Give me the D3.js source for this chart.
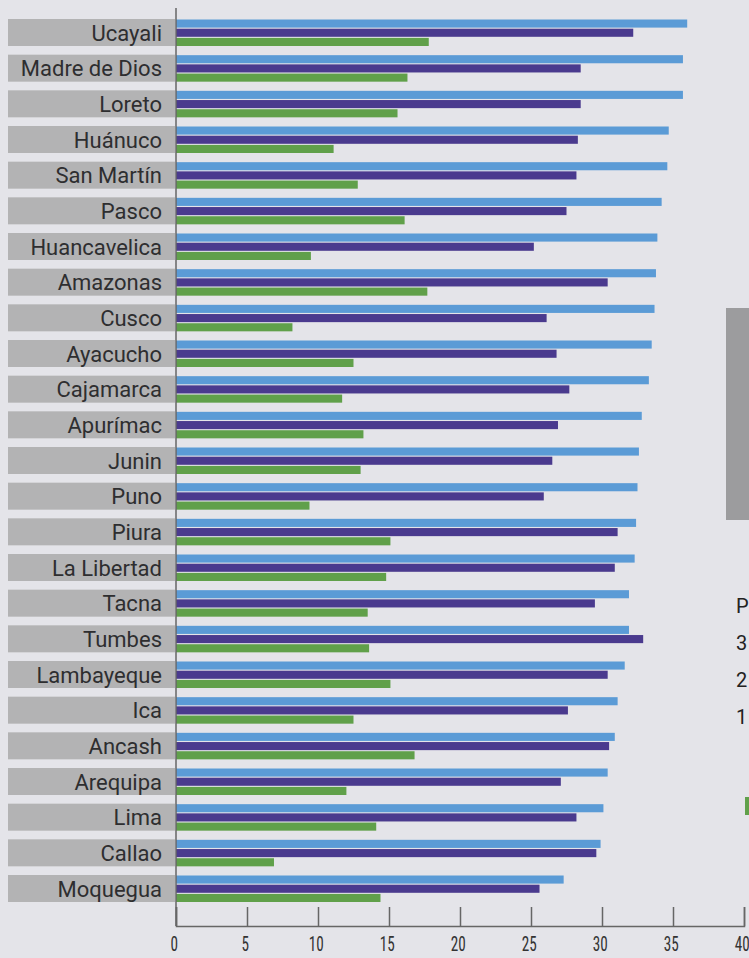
<!DOCTYPE html>
<html>
<head>
<meta charset="utf-8">
<script src="https://cdn.jsdelivr.net/npm/d3@7"></script>
<style>
  html, body { margin: 0; padding: 0; background: #e4e4e9; }
  svg { display: block; }
</style>
</head>
<body>
<script>
// ---- Data ----
const regions = ["Ucayali","Madre de Dios","Loreto","Huánuco","San Martín","Pasco","Huancavelica","Amazonas","Cusco","Ayacucho","Cajamarca","Apurímac","Junin","Puno","Piura","La Libertad","Tacna","Tumbes","Lambayeque","Ica","Ancash","Arequipa","Lima","Callao","Moquegua"];
const seriesA = [36.0,35.7,35.7,34.7,34.6,34.2,33.9,33.8,33.7,33.5,33.3,32.8,32.6,32.5,32.4,32.3,31.9,31.9,31.6,31.1,30.9,30.4,30.1,29.9,27.3]; // light blue
const seriesB = [32.2,28.5,28.5,28.3,28.2,27.5,25.2,30.4,26.1,26.8,27.7,26.9,26.5,25.9,31.1,30.9,29.5,32.9,30.4,27.6,30.5,27.1,28.2,29.6,25.6]; // purple
const seriesC = [17.8,16.3,15.6,11.1,12.8,16.1,9.5,17.7,8.2,12.5,11.7,13.2,13.0,9.4,15.1,14.8,13.5,13.6,15.1,12.5,16.8,12.0,14.1,6.9,14.4];   // green
const seriesKeys = ["A","B","C"];
const seriesColors = {A:"#5b9bd6", B:"#4a3a8e", C:"#60a04a"};
const xTicks = [0,5,10,15,20,25,30,35,40];
const rightTexts = ["P","3","2","1"];

const rows = regions.map((r,i)=>({region:r, A:seriesA[i], B:seriesB[i], C:seriesC[i]}));

const W = 749, H = 958;
const svg = d3.select("body").append("svg").attr("width", W).attr("height", H);
svg.append("rect").attr("width", W).attr("height", H).attr("fill", "#e4e4e9");

const x = d3.scaleLinear().domain([0,40]).range([176,744]);
const y = d3.scaleBand().domain(regions).range([19,902]).paddingInner(0.243).paddingOuter(0);
const ySub = d3.scaleBand().domain(seriesKeys).range([0.5, y.bandwidth()]).paddingInner(0.12);

// label boxes
const g = svg.append("g");
g.selectAll("rect.lbl").data(rows).join("rect")
  .attr("class","lbl")
  .attr("x", 8).attr("width", 167)
  .attr("y", d=>y(d.region)).attr("height", y.bandwidth())
  .attr("fill", "#b3b3b4");

g.selectAll("text.lbl").data(rows).join("text")
  .attr("class","lbl")
  .attr("x", 162)
  .attr("y", d=>y(d.region)+y.bandwidth()/2)
  .attr("dy","0.37em")
  .attr("text-anchor","end")
  .attr("font-family","Roboto, sans-serif")
  .attr("font-size", 22)
  .attr("fill","#2e2e30")
  .text(d=>d.region);

// bars
const groups = svg.append("g").selectAll("g").data(rows).join("g")
  .attr("transform", d=>`translate(0,${y(d.region)})`);
groups.selectAll("rect").data(d=>seriesKeys.map(k=>({k, v:d[k]}))).join("rect")
  .attr("x", x(0))
  .attr("y", d=>ySub(d.k))
  .attr("height", ySub.bandwidth())
  .attr("width", d=>x(d.v)-x(0))
  .attr("fill", d=>seriesColors[d.k]);

// vertical axis line
svg.append("line")
  .attr("x1", x(0)).attr("x2", x(0))
  .attr("y1", 8).attr("y2", 926)
  .attr("stroke","#666").attr("stroke-width",1.5);

// bottom axis
const axis = d3.axisBottom(x).tickValues(xTicks).tickSize(-19).tickPadding(11).tickFormat(d3.format("d"));
const ax = svg.append("g").attr("transform","translate(0,926)").call(axis);
ax.select(".domain").attr("stroke","#666").attr("stroke-width",1.5);
ax.selectAll(".tick line").attr("stroke","#666").attr("stroke-width",1.5);
ax.selectAll(".tick text")
  .attr("font-family","'Liberation Sans Narrow','Roboto Condensed',sans-serif")
  .attr("font-size", 20)
  .attr("x", -3)
  .attr("transform","scale(0.76,1)")
  .attr("fill","#333");

// partial right-side panel (cut off in the picture)
svg.append("rect").attr("x",726).attr("y",308).attr("width",30).attr("height",212).attr("fill","#9c9c9e");
const rt = svg.append("g");
rt.selectAll("text").data(rightTexts).join("text")
  .attr("x", 736)
  .attr("y", (d,i)=>606 + i*37)
  .attr("dy","0.36em")
  .attr("font-family","Roboto, sans-serif")
  .attr("font-size", 20)
  .attr("fill","#222")
  .text(d=>d);
svg.append("rect").attr("x",745).attr("y",797).attr("width",8).attr("height",18).attr("fill","#60a04a");
</script>
</body>
</html>
